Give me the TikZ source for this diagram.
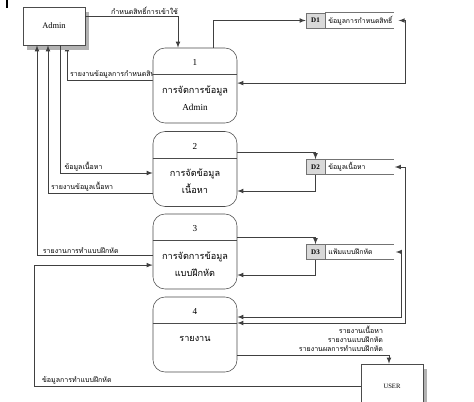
\documentclass[tikz,border=0pt]{standalone}
\usepackage{fontspec}
\setmainfont{Liberation Serif}
\newfontfamily\thaifont[Script=Thai]{Loma}
\usepackage{tikz}
\usetikzlibrary{shadows,backgrounds}
\usetikzlibrary{shapes,calc}

\begin{document}
\begin{tikzpicture}
    \tikzstyle{edge}  = [line width=0.5pt,draw=black!75]
    \tikzstyle{dedge} = [edge,->,>=latex]
    \tikzstyle{bedge} = [edge,<->,>=latex]
    \tikzstyle{entity}=[
      draw=black!70,
      fill=white,
      minimum width=1.55cm,
      minimum height=0.95cm,
      font=\fontsize{6}{7}\selectfont,
      drop shadow={shadow xshift=0.11cm, shadow yshift=-0.13cm, fill=black!30, opacity=1},
    ]
    \tikzstyle{process}=[
      draw=black!70,
      fill=white,
      rounded corners=0.3cm,
      minimum width=2.1cm,
      minimum height=1.875cm,
    ]
    \tikzstyle{ptext}=[
      inner sep=0pt,
      align=center,
      font=\fontsize{6.5}{12}\selectfont,
    ]
    \tikzstyle{storeid}=[
      draw=black!55,
      fill=black!15,
      minimum width=0.475cm,
      minimum height=0.375cm,
      inner sep=0pt,
      font=\bfseries\fontsize{5}{6}\selectfont,
    ]
    \tikzstyle{storename}=[
      anchor=west,
      inner xsep=2pt,
      inner ysep=0pt,
      text width=1.56cm,
      minimum height=0.375cm,
      align=left,
      font=\thaifont\fontsize{4.9}{6.4}\selectfont,
    ]
    \tikzstyle{flow}=[
      inner sep=1pt,
      font=\thaifont\fontsize{5}{6.4}\selectfont,
    ]

    \useasboundingbox (0,0) rectangle (11.85,-10.05);
    \clip (0,0) rectangle (11.85,-10.05);

    % mark at top left
    \draw[line width=0.8pt] (0.175,0) -- (0.175,-0.2);

    % external entities
    \node[entity] (admin) at (1.35,-0.65) {Admin};
    \node[entity, minimum height=1.1cm, font=\fontsize{4.7}{6}\selectfont] (user) at (9.8,-9.65) {USER};

    % processes
    \node[process] (p1) at (4.875,-2.1375) {};
    \node[process] (p2) at (4.875,-4.225) {};
    \node[process] (p3) at (4.875,-6.2875) {};
    \node[process] (p4) at (4.875,-8.3625) {};

    \draw[black!70] ([yshift=-0.675cm]p1.north west) -- ([yshift=-0.675cm]p1.north east);
    \draw[black!70] ([yshift=-0.675cm]p2.north west) -- ([yshift=-0.675cm]p2.north east);
    \draw[black!70] ([yshift=-0.675cm]p3.north west) -- ([yshift=-0.675cm]p3.north east);
    \draw[black!70] ([yshift=-0.675cm]p4.north west) -- ([yshift=-0.675cm]p4.north east);

    \node[ptext] (p1num) at ([yshift=-0.375cm]p1.north) {1};
    \node[ptext] (p2num) at ([yshift=-0.375cm]p2.north) {2};
    \node[ptext] (p3num) at ([yshift=-0.375cm]p3.north) {3};
    \node[ptext] (p4num) at ([yshift=-0.375cm]p4.north) {4};

    \node[ptext] (p1txt) at ([yshift=-1.26cm]p1.north) {{\thaifont การจัดการข้อมูล}\\Admin};
    \node[ptext, font=\thaifont\fontsize{6.5}{12}\selectfont] (p2txt) at ([yshift=-1.26cm]p2.north) {การจัดข้อมูล\\เนื้อหา};
    \node[ptext, font=\thaifont\fontsize{6.5}{12}\selectfont] (p3txt) at ([yshift=-1.26cm]p3.north) {การจัดการข้อมูล\\แบบฝึกหัด};
    \node[ptext, font=\thaifont\fontsize{6.5}{12}\selectfont] (p4txt) at ([yshift=-1.05cm]p4.north) {รายงาน};

    % data stores
    \node[storeid] (d1) at (7.8875,-0.5125) {D1};
    \node[storename] (d1n) at (d1.east) {ข้อมูลการกำหนดสิทธิ์};
    \node[storeid] (d2) at (7.8875,-4.175) {D2};
    \node[storename] (d2n) at (d2.east) {ข้อมูลเนื้อหา};
    \node[storeid] (d3) at (7.8875,-6.3) {D3};
    \node[storename] (d3n) at (d3.east) {แฟ้มแบบฝึกหัด};

    \draw[edge, draw=black!55] (d1n.north west) -- (d1n.north east) (d1n.south west) -- (d1n.south east);
    \draw[edge, draw=black!55] (d2n.north west) -- (d2n.north east) (d2n.south west) -- (d2n.south east);
    \draw[edge, draw=black!55] (d3n.north west) -- (d3n.north east) (d3n.south west) -- (d3n.south east);

    % flows of admin
    \draw[dedge] ([yshift=-0.25cm]admin.north east) -| ([xshift=-0.425cm]p1.north)
      node[flow, pos=0.32, above] {กำหนดสิทธิ์การเข้าใช้};
    \draw[dedge] ([xshift=0.45cm]p1.north) |- (d1.west);
    \draw[bedge] ([xshift=0.12cm]d1n.east) -- ++(0.175cm,0) |- ([yshift=0.06cm]p1.east);
    \begin{scope}[on background layer]
      \draw[dedge] ([yshift=0.14cm]p1.west) -| ([xshift=0.325cm]admin.south)
        node[flow, pos=0.5, anchor=south west, xshift=1pt] {รายงานข้อมูลการกำหนดสิทธิ์};
    \end{scope}

    \draw[dedge] ([xshift=0.15cm]admin.south) |- ([yshift=-0.1cm]p2.west)
      node[flow, pos=0.5, anchor=south west, xshift=2pt] {ข้อมูลเนื้อหา};
    \draw[dedge] ([yshift=-0.6cm]p2.west) -| ([xshift=-0.15cm]admin.south)
      node[flow, pos=0.5, anchor=south west, xshift=1pt] {รายงานข้อมูลเนื้อหา};
    \draw[dedge] ([yshift=-0.0875cm]p3.west) -| ([xshift=-0.425cm]admin.south)
      node[flow, pos=0.5, anchor=south west, xshift=3pt] {รายงานการทำแบบฝึกหัด};

    % flows of user
    \draw[dedge] (user.west) -- ++(-8.15cm,0)
      node[flow, pos=1, anchor=south west, xshift=4pt] {ข้อมูลการทำแบบฝึกหัด}
      |- ([yshift=-0.34cm]p3.west);
    \draw[dedge] ([yshift=-0.51cm]p4.east) -| ([xshift=-0.075cm]user.north)
      node[flow, pos=0.5, anchor=south east, align=right, xshift=-3pt, yshift=1pt] {รายงานเนื้อหา\\รายงานแบบฝึกหัด\\รายงานผลการทำแบบฝึกหัด};

    % flows of stores
    \draw[dedge] ([yshift=0.425cm]p2.east) -| (d2.north);
    \draw[dedge] (d2.south) |- ([yshift=-0.55cm]p2.east);
    \draw[dedge] ([yshift=0.3625cm]p3.east) -| (d3.north);
    \draw[dedge] (d3.south) |- ([yshift=-0.5875cm]p3.east);
    \draw[bedge] ([xshift=0.025cm]d2n.east) -- ++(0.25cm,0) |- ([yshift=0.2875cm]p4.east);
    \draw[bedge] ([xshift=0.05cm]d3n.east) -- ++(0.125cm,0) |- ([yshift=0.4375cm]p4.east);
\end{tikzpicture}
\end{document}
